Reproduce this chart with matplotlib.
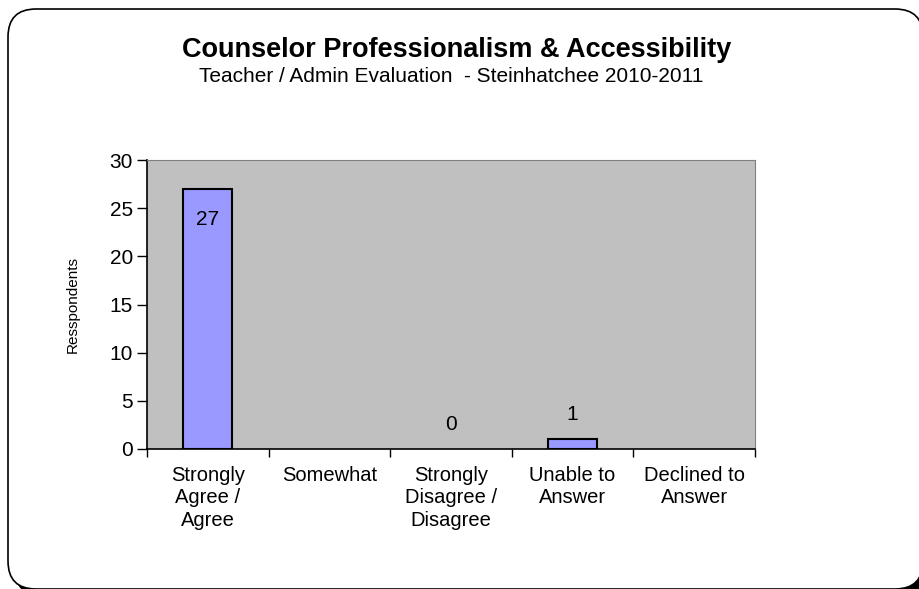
import numpy as np
import matplotlib
matplotlib.use("Agg")
import matplotlib.pyplot as plt
from matplotlib.patches import FancyBboxPatch

plt.rcParams['font.family'] = ['Liberation Sans', 'DejaVu Sans']

categorias = ['Strongly\nAgree /\nAgree', 'Somewhat', 'Strongly\nDisagree /\nDisagree',
              'Unable to\nAnswer', 'Declined to\nAnswer']
respostas = [27, np.nan, 0, 1, np.nan]
yticks = [0, 5, 10, 15, 20, 25, 30]

W, H = 919, 589
fig = plt.figure(figsize=(W / 100, H / 100), dpi=100)
fig.patch.set_facecolor('white')

# moldura arredondada com sombra (passa um pouco da borda da imagem)
def px(x, y):
    return x / W, 1 - y / H

x0, y1 = px(8, 9)
x1, y0 = px(923, 589)
r = 28 / W
sombra = FancyBboxPatch((x0 + 7 / W, y0 - 7 / H), x1 - x0, y1 - y0,
                        boxstyle=f"round,pad=0,rounding_size={r}",
                        transform=fig.transFigure, facecolor='black',
                        edgecolor='black', mutation_aspect=W / H, zorder=0)
moldura = FancyBboxPatch((x0, y0), x1 - x0, y1 - y0,
                         boxstyle=f"round,pad=0,rounding_size={r}",
                         transform=fig.transFigure, facecolor='white',
                         edgecolor='black', linewidth=1.2,
                         mutation_aspect=W / H, zorder=1)
fig.patches.extend([sombra, moldura])

ax = fig.add_axes([147 / W, 140 / H, (755 - 147) / W, (449 - 160) / H])
ax.set_facecolor('#C0C0C0')
ax.set_zorder(2)

x = np.arange(len(categorias))
larguras = [0 if (np.isnan(v) or v == 0) else 1.5 for v in respostas]
ax.bar(x, respostas, width=0.4, color='#9999FF', edgecolor='black',
       linewidth=larguras, zorder=3)

for xi, v in zip(x, respostas):
    if np.isnan(v):
        continue
    if v > 10:
        ax.annotate(f'{v:g}', (xi, v), xytext=(0, -31), textcoords='offset pixels',
                    ha='center', va='center', fontsize=15)
    else:
        ax.annotate(f'{v:g}', (xi, v), xytext=(0, 25), textcoords='offset pixels',
                    ha='center', va='center', fontsize=15)

ax.set_xlim(-0.5, len(categorias) - 0.5)
ax.set_ylim(0, 30)
ax.set_yticks(yticks)
ax.tick_params(axis='y', labelsize=15, length=7, width=1, direction='out', pad=3)

ax.set_xticks(x)
ax.set_xticklabels(categorias, fontsize=14.5, linespacing=1.25)
ax.set_xticks(np.arange(-0.5, len(categorias)), minor=True)
ax.tick_params(axis='x', which='major', length=0, pad=12)
ax.tick_params(axis='x', which='minor', length=6, width=1, direction='out')

for s in ['top', 'right']:
    ax.spines[s].set_color('#808080')
for s in ['left', 'bottom']:
    ax.spines[s].set_color('black')
    ax.spines[s].set_linewidth(1.2)

ax.set_ylabel('Resspondents', fontsize=11)
ax.yaxis.set_label_coords((80 - 147) / (755 - 147), 0.5)

fig.text(457 / W, 1 - 50 / H, 'Counselor Professionalism & Accessibility',
         ha='center', va='center', fontsize=19.5, fontweight='bold', zorder=3)
fig.text(451 / W, 1 - 76 / H, 'Teacher / Admin Evaluation  - Steinhatchee 2010-2011',
         ha='center', va='center', fontsize=15, zorder=3)

fig.savefig('out.png', dpi=100)
